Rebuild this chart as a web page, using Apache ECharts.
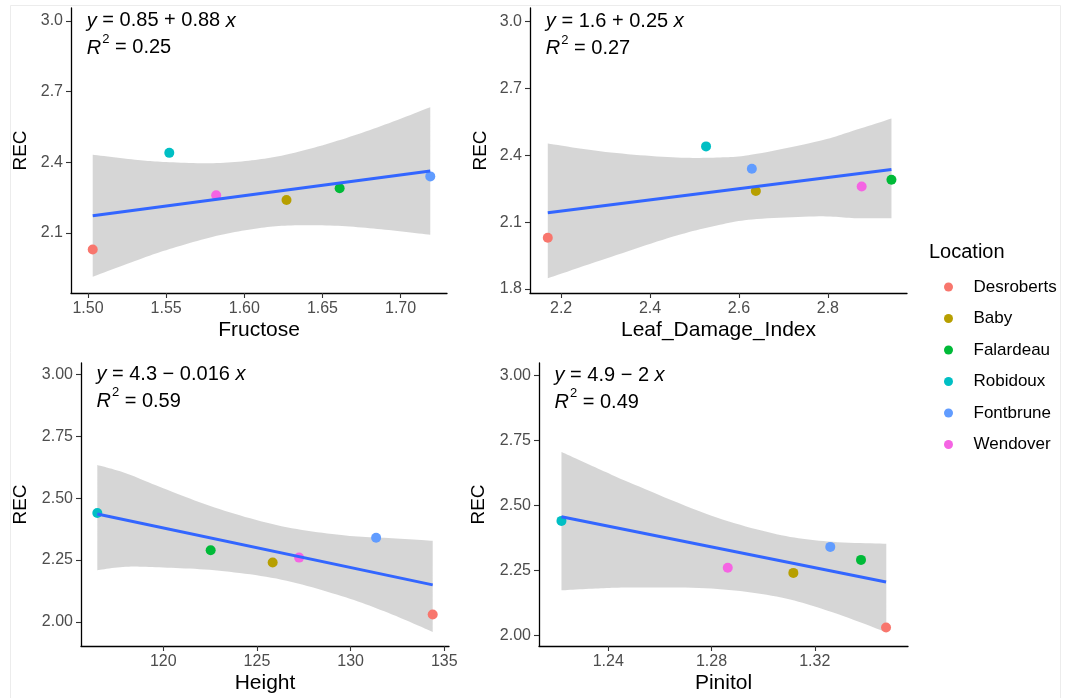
<!DOCTYPE html>
<html>
<head>
<meta charset="utf-8">
<title>REC vs. plant traits by location</title>
<script src="https://cdn.jsdelivr.net/npm/echarts@6/dist/echarts.min.js"></script>
<style>
  html, body { margin: 0; padding: 0; background: #ffffff; }
  #chart { width: 1066px; height: 698px; }
</style>
</head>
<body>
<div id="chart"></div>
<script>
// ---- data -------------------------------------------------------------
const locations = ['Desroberts', 'Baby', 'Falardeau', 'Robidoux', 'Fontbrune', 'Wendover'];
const locationColors = ['#F8766D', '#B79F00', '#00BA38', '#00BFC4', '#619CFF', '#F564E3'];

// response, one value per location (same order as `locations`)
const rec = [2.03, 2.24, 2.29, 2.44, 2.34, 2.26];

// predictors, one value per location
const fructose = [1.503, 1.627, 1.661, 1.552, 1.719, 1.582];
const leafDamageIndex = [2.170, 2.638, 2.943, 2.526, 2.629, 2.876];
const height = [134.38, 125.84, 122.53, 116.48, 131.36, 127.25];
const pinitol = [1.3476, 1.3117, 1.3379, 1.2219, 1.326, 1.2863];

// fitted lines y = a + b x and their R²
const fitIntercepts = [0.85, 1.6, 4.3, 4.9];
const fitSlopes = [0.88, 0.25, -0.016, -2];
const rSquared = [0.25, 0.27, 0.59, 0.49];

// 95% confidence bands of the fits (x, lower, upper)
const fructoseBandX = [1.503, 1.53, 1.55, 1.58, 1.607, 1.63, 1.66, 1.69, 1.719];
const fructoseBandLower = [1.914, 1.981, 2.027, 2.084, 2.118, 2.132, 2.130, 2.114, 2.092];
const fructoseBandUpper = [2.432, 2.411, 2.401, 2.396, 2.410, 2.437, 2.492, 2.560, 2.634];

const leafBandX = [2.170, 2.30, 2.45, 2.55, 2.63, 2.78, 2.86, 2.943];
const leafBandLower = [1.848, 1.936, 2.034, 2.085, 2.112, 2.126, 2.118, 2.117];
const leafBandUpper = [2.453, 2.415, 2.391, 2.390, 2.403, 2.464, 2.512, 2.565];

const heightBandX = [116.48, 118, 120, 123, 126.31, 129.5, 132, 134.38];
const heightBandLower = [2.209, 2.223, 2.220, 2.207, 2.171, 2.105, 2.037, 1.960];
const heightBandUpper = [2.634, 2.601, 2.540, 2.456, 2.387, 2.351, 2.339, 2.328];

const pinitolBandX = [1.2219, 1.235, 1.25, 1.28, 1.3052, 1.325, 1.3477];
const pinitolBandLower = [2.173, 2.180, 2.184, 2.180, 2.149, 2.095, 2.012];
const pinitolBandUpper = [2.705, 2.646, 2.580, 2.460, 2.389, 2.361, 2.352];

// axis ticks
const fructoseTicks = [1.50, 1.55, 1.60, 1.65, 1.70];
const leafTicks = [2.2, 2.4, 2.6, 2.8];
const heightTicks = [120, 125, 130, 135];
const pinitolTicks = [1.24, 1.28, 1.32];
const recTicksTopLeft = [2.1, 2.4, 2.7, 3.0];
const recTicksTopRight = [1.8, 2.1, 2.4, 2.7, 3.0];
const recTicksBottom = [2.00, 2.25, 2.50, 2.75, 3.00];

const xTitles = ['Fructose', 'Leaf_Damage_Index', 'Height', 'Pinitol'];
const yTitle = 'REC';
const legendTitle = 'Location';

// equation labels: first line centred on REC = 3.0, a little in from the left edge
const equationY = 3.0;
const equationXFraction = 0.042;

// ---- panel layout ------------------------------------------------------
const panels = [
  { x: fructose, bandX: fructoseBandX, lower: fructoseBandLower, upper: fructoseBandUpper,
    xTicks: fructoseTicks, xDec: 2, yTicks: recTicksTopLeft, yDec: 1,
    xRange: [1.4891, 1.7297], yRange: [1.845, 3.055], yNameGap: 41,
    grid: { left: 71, top: 8, width: 376, height: 285 } },
  { x: leafDamageIndex, bandX: leafBandX, lower: leafBandLower, upper: leafBandUpper,
    xTicks: leafTicks, xDec: 1, yTicks: recTicksTopRight, yDec: 1,
    xRange: [2.130, 2.978], yRange: [1.782, 3.061], yNameGap: 40,
    grid: { left: 530, top: 8, width: 377, height: 285 } },
  { x: height, bandX: heightBandX, lower: heightBandLower, upper: heightBandUpper,
    xTicks: heightTicks, xDec: 0, yTicks: recTicksBottom, yDec: 2,
    xRange: [115.61, 135.25], yRange: [1.903, 3.046], yNameGap: 51,
    grid: { left: 81, top: 363, width: 368, height: 283 } },
  { x: pinitol, bandX: pinitolBandX, lower: pinitolBandLower, upper: pinitolBandUpper,
    xTicks: pinitolTicks, xDec: 2, yTicks: recTicksBottom, yDec: 2,
    xRange: [1.2132, 1.3561], yRange: [1.959, 3.047], yNameGap: 51,
    grid: { left: 539, top: 363, width: 369, height: 283 } }
];

const FONT = '"Liberation Sans", Arial, Helvetica, sans-serif';
const BAND_FILL = 'rgba(153,153,153,0.4)';
const FIT_COLOR = '#3366FF';

// Catmull-Rom sampling of a pixel-space polyline so band edges render smoothly
function smoothEdge(pts) {
  if (pts.length < 3) return pts.slice();
  const out = [];
  const steps = 12;
  for (let i = 0; i < pts.length - 1; i++) {
    const p0 = pts[Math.max(i - 1, 0)], p1 = pts[i], p2 = pts[i + 1], p3 = pts[Math.min(i + 2, pts.length - 1)];
    for (let s = 0; s < steps; s++) {
      const t = s / steps, t2 = t * t, t3 = t2 * t;
      const f = (a, b, c, d) => 0.5 * ((2 * b) + (-a + c) * t + (2 * a - 5 * b + 4 * c - d) * t2 + (-a + 3 * b - 3 * c + d) * t3);
      out.push([f(p0[0], p1[0], p2[0], p3[0]), f(p0[1], p1[1], p2[1], p3[1])]);
    }
  }
  out.push(pts[pts.length - 1]);
  return out;
}

const grids = [], xAxes = [], yAxes = [], series = [];

panels.forEach((p, i) => {
  grids.push(Object.assign({ containLabel: false, outerBoundsMode: 'none' }, p.grid));

  const axisCommon = {
    type: 'value',
    gridIndex: i,
    splitLine: { show: false },
    axisLine: { show: true, onZero: false, lineStyle: { color: '#000000', width: 1.3 } },
    axisTick: { show: true, length: 5, lineStyle: { color: '#333333', width: 1.1 } },
    nameLocation: 'middle'
  };

  xAxes.push(Object.assign({}, axisCommon, {
    min: p.xRange[0], max: p.xRange[1],
    name: xTitles[i], nameGap: 27,
    nameTextStyle: { color: '#000000', fontSize: 21, fontFamily: FONT },
    axisTick: Object.assign({}, axisCommon.axisTick, { customValues: p.xTicks }),
    axisLabel: { color: '#4d4d4d', fontSize: 16, fontFamily: FONT, margin: 8,
      customValues: p.xTicks, formatter: v => Number(v).toFixed(p.xDec) }
  }));

  yAxes.push(Object.assign({}, axisCommon, {
    min: p.yRange[0], max: p.yRange[1],
    name: yTitle, nameGap: p.yNameGap, nameRotate: 90,
    nameTextStyle: { color: '#000000', fontSize: 19, fontFamily: FONT },
    axisTick: Object.assign({}, axisCommon.axisTick, { customValues: p.yTicks }),
    axisLabel: { color: '#4d4d4d', fontSize: 16, fontFamily: FONT, margin: 8,
      customValues: p.yTicks, formatter: v => Number(v).toFixed(p.yDec) }
  }));

  // points, one series per location so the legend covers every panel
  locations.forEach((loc, j) => {
    series.push({
      type: 'scatter', name: loc, xAxisIndex: i, yAxisIndex: i,
      data: [[p.x[j], rec[j]]],
      symbol: 'circle', symbolSize: 10,
      itemStyle: { color: locationColors[j], opacity: 1 },
      emphasis: { disabled: true }
    });
  });

  // confidence band
  series.push({
    type: 'custom', xAxisIndex: i, yAxisIndex: i, silent: true, clip: false,
    data: p.bandX.map((x, k) => [x, p.lower[k], p.upper[k]]),
    encode: { x: 0, y: [1, 2] },
    renderItem: (params, api) => {
      if (params.dataIndex !== 0) return null;
      const up = p.bandX.map((x, k) => api.coord([x, p.upper[k]]));
      const lo = p.bandX.map((x, k) => api.coord([x, p.lower[k]]));
      const pts = smoothEdge(up).concat(smoothEdge(lo).reverse());
      return { type: 'polygon', shape: { points: pts }, style: { fill: BAND_FILL } };
    }
  });

  // fitted line over the data range
  const xmin = Math.min(...p.x), xmax = Math.max(...p.x);
  const a = fitIntercepts[i], b = fitSlopes[i];
  series.push({
    type: 'line', xAxisIndex: i, yAxisIndex: i, silent: true,
    data: [[xmin, a + b * xmin], [xmax, a + b * xmax]],
    symbol: 'none', lineStyle: { color: FIT_COLOR, width: 3 }, itemStyle: { color: FIT_COLOR }
  });

  // regression equation and R²
  const eq = '{i|y} = ' + String(a) + (b < 0 ? ' \u2212 ' : ' + ') + String(Math.abs(b)) + ' {i|x}';
  const r2 = '{i|R}{sup|2} = ' + rSquared[i].toFixed(2);
  const rich = {
    i: { fontStyle: 'italic', fontSize: 20, lineHeight: 30, fontFamily: FONT, fill: '#000' },
    sup: { fontSize: 13, lineHeight: 12, fontFamily: FONT, verticalAlign: 'top', fill: '#000', padding: [0, 0, 0, 1] }
  };
  const labelX = p.xRange[0] + equationXFraction * (p.xRange[1] - p.xRange[0]);
  const textStyle = { rich: rich, fontSize: 20, lineHeight: 30, fontFamily: FONT, fill: '#000',
    align: 'left', verticalAlign: 'middle' };
  series.push({
    type: 'custom', xAxisIndex: i, yAxisIndex: i, silent: true, clip: false,
    data: [[labelX, equationY]],
    renderItem: (params, api) => {
      const pt = api.coord([api.value(0), api.value(1)]);
      return {
        type: 'group',
        children: [
          { type: 'text', x: pt[0], y: pt[1], style: Object.assign({ text: eq }, textStyle) },
          { type: 'text', x: pt[0], y: pt[1] + 27, style: Object.assign({ text: r2 }, textStyle) }
        ]
      };
    }
  });
});

const option = {
  backgroundColor: '#ffffff',
  animation: false,
  textStyle: { fontFamily: FONT },
  grid: grids,
  xAxis: xAxes,
  yAxis: yAxes,
  legend: {
    data: locations,
    orient: 'vertical',
    left: 939, top: 273,
    icon: 'circle',
    itemWidth: 40, itemHeight: 9,
    itemGap: 13.5,
    selectedMode: false,
    textStyle: { color: '#000000', fontSize: 17, fontFamily: FONT, lineHeight: 18 }
  },
  graphic: [
    { type: 'rect', silent: true, z: -1,
      shape: { x: 10.5, y: 5.5, width: 1050, height: 700 },
      style: { fill: 'none', stroke: '#ececec', lineWidth: 1 } },
    { type: 'text', left: 929, top: 242,
      style: { text: legendTitle, fontSize: 20, fontFamily: FONT, fill: '#000000' } }
  ],
  series: series
};

const chart = echarts.init(document.getElementById('chart'), null, { renderer: 'canvas' });
chart.setOption(option);
</script>
</body>
</html>
